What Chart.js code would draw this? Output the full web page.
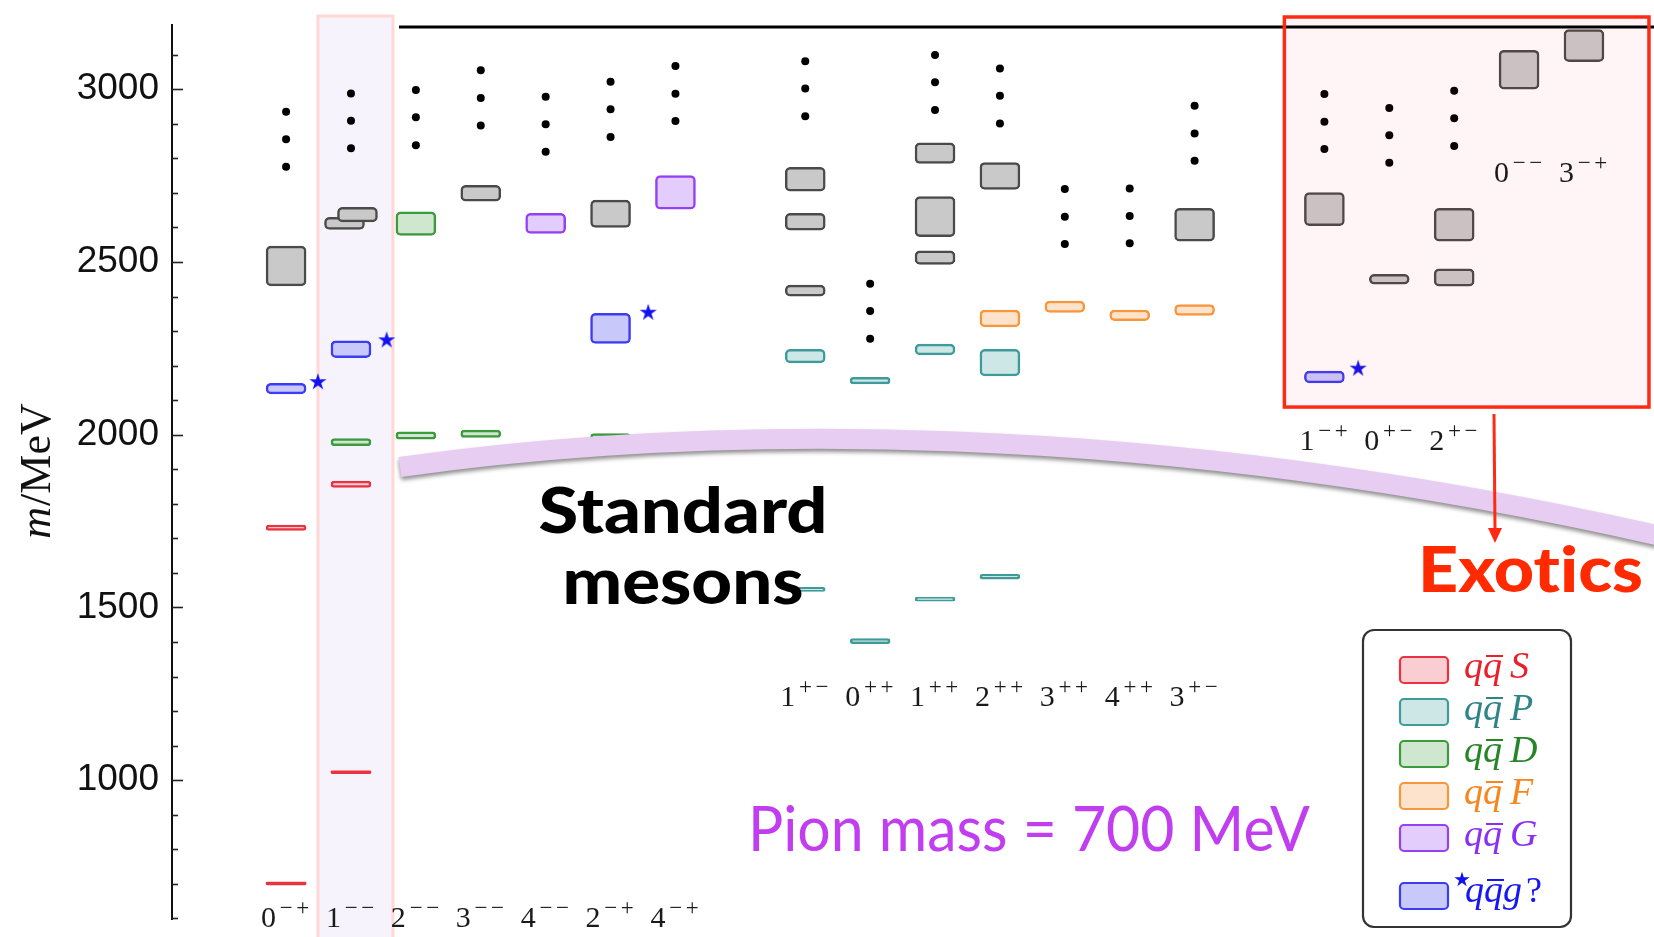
<!DOCTYPE html>
<html>
<head>
<meta charset="utf-8">
<script src="https://cdn.jsdelivr.net/npm/chart.js@4.4.0/dist/chart.umd.min.js"></script>
<style>
  html, body { margin: 0; padding: 0; background: #fff; }
  #wrap { width: 1654px; height: 937px; position: relative; }
</style>
</head>
<body>
<div id="wrap"><canvas id="spectrum" width="1654" height="937"></canvas></div>
<script>
// J^PC channels, one per slot of the x axis (null = empty gap)
const channels = ['0-+', '1--', '2--', '3--', '4--', '2-+', '4-+', null,
                  '1+-', '0++', '1++', '2++', '3++', '4++', '3+-', null,
                  '1-+', '0+-', '2+-', '0--', '3-+'];

const majorTicks = [1000, 1500, 2000, 2500, 3000];
const minorTicks = [600, 700, 800, 900, 1100, 1200, 1300, 1400, 1600, 1700, 1800, 1900,
                    2100, 2200, 2300, 2400, 2600, 2700, 2800, 2900, 3100];

// [channel, low MeV, high MeV, small x shift]
const sStates = [['0-+', 697, 705], ['0-+', 1723, 1738], ['1--', 1019, 1027], ['1--', 1847, 1866]];
const pStates = [['1+-', 1546, 1558], ['1+-', 2208, 2247], ['0++', 1395, 1410], ['0++', 2147, 2166],
                 ['1++', 1518, 1530], ['1++', 2231, 2262], ['2++', 1582, 1596], ['2++', 2170, 2247]];
const dStates = [['1--', 1968, 1989], ['2--', 1987, 2008], ['2--', 2577, 2645], ['3--', 1992, 2013],
                 ['2-+', 1982, 2003]];
const fStates = [['2++', 2312, 2361], ['3++', 2354, 2387], ['4++', 2330, 2361], ['3+-', 2345, 2377]];
const gStates = [['4--', 2583, 2641], ['4-+', 2653, 2750]];
const hybridStates = [['0-+', 2118, 2149], ['1--', 2223, 2272], ['2-+', 2264, 2351], ['1-+', 2150, 2184]];
const otherStates = [['0-+', 2431, 2546], ['1--', 2594, 2629, -0.1], ['1--', 2616, 2658, 0.1],
                     ['3--', 2676, 2722], ['2-+', 2600, 2679],
                     ['1+-', 2401, 2433], ['1+-', 2592, 2641], ['1+-', 2705, 2774],
                     ['1++', 2493, 2532], ['1++', 2573, 2689], ['1++', 2785, 2845],
                     ['2++', 2710, 2788], ['3+-', 2560, 2655],
                     ['1-+', 2605, 2701], ['0+-', 2436, 2464], ['2+-', 2430, 2480], ['2+-', 2560, 2655],
                     ['0--', 3000, 3113], ['3-+', 3080, 3173]];

// "more states" dots
const dotColumns = [['0-+', [2935, 2855, 2776]], ['1--', [2988, 2909, 2829]], ['2--', [2998, 2919, 2838]],
                    ['3--', [3055, 2975, 2895]], ['4--', [2978, 2899, 2819]], ['2-+', [3022, 2942, 2862]],
                    ['4-+', [3067, 2987, 2908]], ['1+-', [3081, 3002, 2922]], ['0++', [2437, 2358, 2278]],
                    ['1++', [3099, 3020, 2940]], ['2++', [3060, 2981, 2901]], ['3++', [2711, 2631, 2552]],
                    ['4++', [2713, 2633, 2554]], ['3+-', [2952, 2872, 2793]], ['1-+', [2986, 2906, 2827]],
                    ['0+-', [2946, 2867, 2787]], ['2+-', [2996, 2916, 2836]]];

// hybrid stars: [channel, x shift, MeV]
const starMarks = [['0-+', 0.49, 2155], ['1--', 0.55, 2276], ['2-+', 0.58, 2356], ['1-+', 0.52, 2194]];

const waveStyle = {
  S: { border: '#ea3340', fill: '#f9cdd1', text: '#e8202c' },
  P: { border: '#3f9a9a', fill: '#cde6e6', text: '#2f8585' },
  D: { border: '#3d9a3d', fill: '#cfe6cf', text: '#268526' },
  F: { border: '#f7963c', fill: '#fde3cc', text: '#f7861e' },
  G: { border: '#9440f5', fill: '#e2cdfc', text: '#8a30f5' },
  H: { border: '#3c3cf2', fill: '#c8c8fa', text: '#1717ee' },
  X: { border: '#4a4a4a', fill: '#c9c9c9' }
};

const slotOf = jpc => channels.indexOf(jpc);
const boxes = list => list.map(([jpc, lo, hi, dx]) => ({ x: slotOf(jpc) + (dx || 0), y: [lo, hi] }));
const isThin = c => c.raw && c.raw.y[1] - c.raw.y[0] < 10;

function makeStar(r) {
  const c = document.createElement('canvas');
  c.width = c.height = Math.ceil(2 * r + 2);
  const g = c.getContext('2d');
  g.translate(c.width / 2, c.height / 2 + r * 0.1);
  g.beginPath();
  for (let i = 0; i < 10; i++) {
    const rad = i % 2 ? r * 0.38 : r;
    const a = -Math.PI / 2 + i * Math.PI / 5;
    g.lineTo(rad * Math.cos(a), rad * Math.sin(a));
  }
  g.closePath();
  g.fillStyle = '#1212f0';
  g.fill();
  return c;
}
const starImg = makeStar(9);
const smallStar = makeStar(8);

function barSet(list, key) {
  const st = waveStyle[key];
  return {
    type: 'bar', data: boxes(list), grouped: false, barThickness: 40,
    // very narrow levels are drawn as solid lines
    backgroundColor: c => isThin(c) ? st.border : st.fill,
    borderColor: st.border,
    borderWidth: c => isThin(c) ? 0 : 2.5,
    borderRadius: 5, borderSkipped: false
  };
}

const datasets = [
  barSet(sStates, 'S'), barSet(pStates, 'P'), barSet(dStates, 'D'), barSet(fStates, 'F'),
  barSet(gStates, 'G'), barSet(hybridStates, 'H'), barSet(otherStates, 'X'),
  {
    type: 'scatter',
    data: dotColumns.flatMap(([jpc, ys]) => ys.map(v => ({ x: slotOf(jpc), y: v }))),
    pointRadius: 4, backgroundColor: '#000', borderWidth: 0
  },
  {
    type: 'scatter',
    data: starMarks.map(([jpc, dx, v]) => ({ x: slotOf(jpc) + dx, y: v })),
    pointStyle: starImg, pointRadius: 9
  }
];

function fitText(ctx, text, x, y, width, font, color, align) {
  ctx.save();
  ctx.font = font;
  ctx.fillStyle = color;
  ctx.textAlign = 'left';
  ctx.textBaseline = 'alphabetic';
  const w = ctx.measureText(text).width;
  ctx.translate(align === 'center' ? x - width / 2 : x, y);
  ctx.scale(width / w, 1);
  ctx.fillText(text, 0, 0);
  ctx.restore();
}

function drawJpc(ctx, label, cx, baseline) {
  const digit = label[0];
  const sup = label.slice(1).replace(/-/g, '\u2212');
  ctx.font = '30px "Liberation Serif"';
  const dw = ctx.measureText(digit).width;
  const step = 16.5;
  const x0 = cx - (dw + 2 + step * 2) / 2;
  ctx.textAlign = 'left';
  ctx.fillText(digit, x0, baseline);
  ctx.font = '23px "Liberation Serif"';
  ctx.textAlign = 'center';
  for (let i = 0; i < sup.length; i++) {
    ctx.fillText(sup[i], x0 + dw + 2 + step * (i + 0.5), baseline - 12);
  }
}

function labelRow(slot) {
  if (slot <= 6) return 927;
  if (slot <= 14) return 706;
  if (slot <= 18) return 450;
  return 182;
}

const decor = {
  id: 'decor',
  beforeDatasetsDraw(chart) {
    const { ctx } = chart;
    const cx = chart.scales.x.getPixelForValue(slotOf('1--'));
    ctx.save();
    ctx.fillStyle = '#f6f3fd';
    ctx.fillRect(cx - 33, 16, 75, 930);
    ctx.strokeStyle = '#ffd8d6';
    ctx.lineWidth = 3;
    ctx.strokeRect(cx - 33, 16, 75, 930);
    ctx.restore();
  },
  afterDatasetsDraw(chart) {
    const { ctx } = chart;
    const xs = chart.scales.x, ys = chart.scales.y;
    ctx.save();

    // inward ticks on the mass axis
    const left = chart.chartArea.left;
    ctx.strokeStyle = '#222';
    ctx.lineWidth = 1.6;
    ys.ticks.forEach(t => {
      const py = Math.round(ys.getPixelForValue(t.value)) + 0.5;
      const len = majorTicks.includes(t.value) ? 11 : 6;
      ctx.beginPath();
      ctx.moveTo(left, py);
      ctx.lineTo(left + len, py);
      ctx.stroke();
    });

    // exotic region
    const exL = xs.getPixelForValue(slotOf('1-+')) - 40;
    const exR = xs.getPixelForValue(slotOf('3-+')) + 65;
    const exB = ys.getPixelForValue(2080);
    ctx.fillStyle = 'rgba(255,30,50,0.045)';
    ctx.fillRect(exL, 17, exR - exL, exB - 17);

    // top frame line
    ctx.strokeStyle = '#000';
    ctx.lineWidth = 3;
    ctx.beginPath();
    ctx.moveTo(399, 27);
    ctx.lineTo(1654, 27);
    ctx.stroke();

    ctx.strokeStyle = '#ff2a14';
    ctx.lineWidth = 3.5;
    ctx.strokeRect(exL, 17, exR - exL, exB - 17);

    // J^PC labels
    ctx.fillStyle = '#1a1a1a';
    ctx.textBaseline = 'alphabetic';
    channels.forEach((jpc, slot) => {
      if (jpc) drawJpc(ctx, jpc, xs.getPixelForValue(slot), labelRow(slot));
    });

    // separating band
    ctx.save();
    ctx.shadowColor = 'rgba(0,0,0,0.45)';
    ctx.shadowBlur = 4;
    ctx.shadowOffsetY = 3;
    ctx.strokeStyle = '#e8cdf2';
    ctx.lineWidth = 20;
    ctx.lineCap = 'butt';
    ctx.beginPath();
    ctx.moveTo(400, 467);
    ctx.bezierCurveTo(700, 425, 1150, 415, 1700, 545);
    ctx.stroke();
    ctx.restore();

    // arrow to "Exotics"
    ctx.strokeStyle = '#ff2a14';
    ctx.fillStyle = '#ff2a14';
    ctx.lineWidth = 3;
    ctx.beginPath();
    ctx.moveTo(1494, 414);
    ctx.lineTo(1495, 530);
    ctx.stroke();
    ctx.beginPath();
    ctx.moveTo(1488, 528);
    ctx.lineTo(1502, 528);
    ctx.lineTo(1495, 543);
    ctx.closePath();
    ctx.fill();

    // annotations
    fitText(ctx, 'Standard', 683, 533, 289, '900 62px Lato', '#000', 'center');
    fitText(ctx, 'mesons', 683, 604, 241, '900 62px Lato', '#000', 'center');
    fitText(ctx, 'Exot\u200Cics', 1418, 592, 225, '900 62px Lato', '#ff2a00', 'left');
    fitText(ctx, 'Pion mass = 700 MeV', 748, 851, 562, '62px Lato', '#c13df0', 'left');

    // axis title m/MeV
    ctx.save();
    ctx.translate(50, 471.5);
    ctx.rotate(-Math.PI / 2);
    ctx.fillStyle = '#111';
    ctx.textAlign = 'left';
    ctx.textBaseline = 'alphabetic';
    ctx.font = 'italic 44px "Liberation Serif"';
    const mw = ctx.measureText('m').width;
    ctx.font = '44px "Liberation Serif"';
    const rw = ctx.measureText('/MeV').width;
    const x0 = -(mw + rw) / 2;
    ctx.font = 'italic 44px "Liberation Serif"';
    ctx.fillText('m', x0, 0);
    ctx.font = '44px "Liberation Serif"';
    ctx.fillText('/MeV', x0 + mw + 1, 0);
    ctx.restore();

    // legend
    ctx.fillStyle = '#fff';
    ctx.strokeStyle = '#333';
    ctx.lineWidth = 2.2;
    ctx.beginPath();
    ctx.roundRect(1363, 630, 208, 297, 11);
    ctx.fill();
    ctx.stroke();
    const rows = ['S', 'P', 'D', 'F', 'G', 'H'];
    rows.forEach((key, i) => {
      const st = waveStyle[key];
      const top = key === 'H' ? 883 : 657 + i * 42;
      const base = key === 'H' ? 902 : 678 + i * 42;
      ctx.fillStyle = st.fill;
      ctx.strokeStyle = st.border;
      ctx.lineWidth = 2.2;
      ctx.beginPath();
      ctx.roundRect(1400, top, 48, 26, 4);
      ctx.fill();
      ctx.stroke();
      ctx.fillStyle = st.text;
      ctx.strokeStyle = st.text;
      ctx.font = 'italic 38px "Liberation Serif"';
      ctx.textAlign = 'left';
      const qx = key === 'H' ? 1465 : 1464;
      const qw = ctx.measureText('q').width;
      ctx.fillText('q', qx, base);
      ctx.fillText('q', qx + qw, base);
      ctx.lineWidth = 2;
      ctx.beginPath();
      ctx.moveTo(qx + qw + 3, base - 22);
      ctx.lineTo(qx + 2 * qw + 1, base - 22);
      ctx.stroke();
      if (key === 'H') {
        ctx.fillText('g', qx + 2 * qw, base);
        ctx.font = '36px "Liberation Serif"';
        ctx.fillText('?', 1526, base);
        ctx.drawImage(smallStar, 1462 - smallStar.width / 2, 879 - smallStar.height / 2);
      } else {
        ctx.fillText(key, 1510, base);
      }
    });
    ctx.restore();
  }
};

const chart = new Chart(document.getElementById('spectrum').getContext('2d'), {
  type: 'bar',
  data: { datasets: datasets },
  options: {
    responsive: false,
    maintainAspectRatio: false,
    devicePixelRatio: 1,
    animation: false,
    events: [],
    layout: { padding: { left: 0, right: 0, top: 25, bottom: 18 } },
    plugins: { legend: { display: false }, tooltip: { enabled: false } },
    scales: {
      x: { type: 'linear', min: -1.758, max: 20.925, display: false, offset: false },
      y: {
        type: 'linear', min: 598, max: 3186,
        grid: { display: false, drawTicks: false },
        border: { display: true, color: '#111', width: 2 },
        afterBuildTicks: scale => {
          scale.ticks = majorTicks.concat(minorTicks).sort((a, b) => a - b).map(v => ({ value: v }));
        },
        afterFit: scale => {
          scale.width = 172;
          scale.paddingTop = 0;
          scale.paddingBottom = 0;
        },
        ticks: {
          autoSkip: false,
          padding: 13,
          color: '#111',
          font: { family: 'Liberation Sans', size: 37 },
          callback: v => majorTicks.includes(v) ? String(v) : ''
        }
      }
    }
  },
  plugins: [decor]
});
</script>
</body>
</html>
